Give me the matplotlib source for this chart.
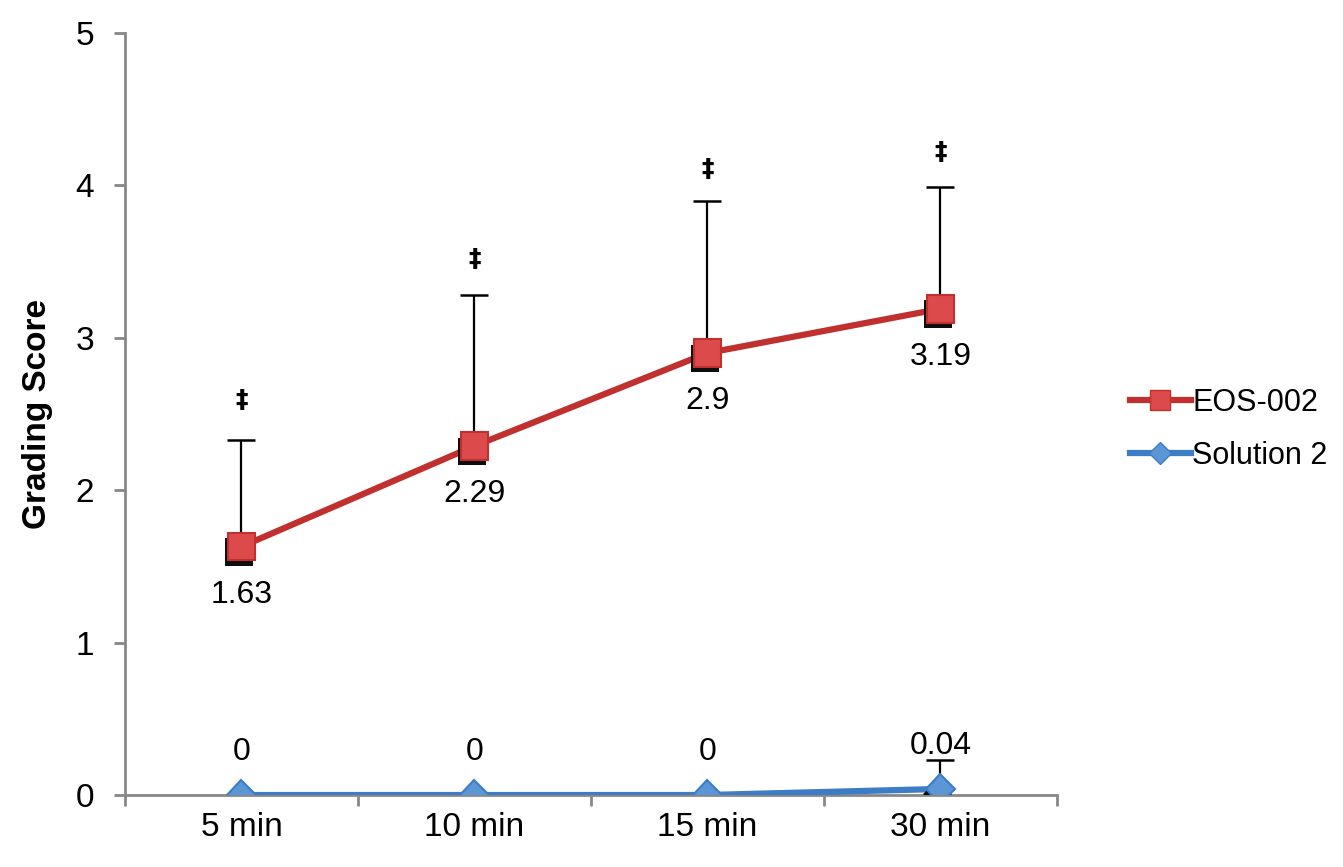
import matplotlib
matplotlib.use('Agg')
from matplotlib import pyplot as plt
import matplotlib.patheffects as pe

plt.rcParams['font.family'] = ['Liberation Sans', 'DejaVu Sans']

times = ['5 min', '10 min', '15 min', '30 min']
eos = [1.63, 2.29, 2.9, 3.19]
eos_err = [0.70, 0.99, 1.00, 0.80]
eos_sig = [2.59, 3.52, 4.11, 4.22]
sol = [0, 0, 0, 0.04]
sol_err = [0, 0, 0, 0.19]
sol_labels = ['0', '0', '0', '0.04']

red_line = '#c0302e'
red_face = '#dc4a4c'
blue_line = '#3d7cc6'
blue_face = '#5b97d6'

x = list(range(len(times)))

fig = plt.figure(figsize=(13.43, 8.67), dpi=100)
ax = fig.add_axes([0.093, 0.083, 0.694, 0.879])

shadow = [pe.SimplePatchShadow(offset=(-2, -4), shadow_rgbFace='black', alpha=0.95), pe.Normal()]

# error bars (upper only)
ax.errorbar(x, eos, yerr=[[0] * 4, eos_err], fmt='none', ecolor='black',
            elinewidth=1.6, capsize=10, capthick=1.8, zorder=2)
ax.errorbar(x, sol, yerr=[[0] * 4, sol_err], fmt='none', ecolor='black',
            elinewidth=1.6, capsize=10, capthick=1.8, zorder=2)

ax.plot(x, eos, color=red_line, linewidth=4.5, zorder=3)
ax.plot(x, sol, color=blue_line, linewidth=4.5, zorder=3)
ax.plot(x, eos, linestyle='none', marker='s', markersize=20, markerfacecolor=red_face,
        markeredgecolor=red_line, markeredgewidth=1.5, zorder=4, path_effects=shadow)
ax.plot(x, sol, linestyle='none', marker='D', markersize=15, markerfacecolor=blue_face,
        markeredgecolor=blue_line, markeredgewidth=1.5, zorder=4, path_effects=shadow)

# legend proxies
ax.plot([], [], color=red_line, linewidth=4.5, marker='s', markersize=15,
        markerfacecolor=red_face, markeredgecolor=red_line, label='EOS-002')
ax.plot([], [], color=blue_line, linewidth=4.5, marker='D', markersize=11,
        markerfacecolor=blue_face, markeredgecolor=blue_line, label='Solution 2')

for i in x:
    ax.annotate(f'{eos[i]:g}', (i, eos[i]), xytext=(0, -24), textcoords='offset points',
                ha='center', va='top', fontsize=23)
    ax.annotate(sol_labels[i], (i, sol[i]), xytext=(0, 20), textcoords='offset points',
                ha='center', va='bottom', fontsize=23)
    ax.text(i, eos_sig[i], '\u2021', ha='center', va='center', fontsize=18,
            fontweight='bold', family=['DejaVu Sans'])

ax.set_xlim(-0.5, 3.5)
ax.set_ylim(0, 5)
ax.set_yticks([0, 1, 2, 3, 4, 5])
ax.set_xticks([-0.5, 0.5, 1.5, 2.5, 3.5])
ax.set_xticklabels([])
ax.set_xticks(x, minor=True)
ax.set_xticklabels(times, minor=True)
ax.tick_params(axis='x', which='minor', length=0, labelsize=24, pad=12)
ax.tick_params(axis='x', which='major', length=8, width=2, color='#888888', direction='out')
ax.tick_params(axis='y', length=8, width=2, color='#888888', labelsize=24, pad=14)

for s in ['top', 'right']:
    ax.spines[s].set_visible(False)
for s in ['left', 'bottom']:
    ax.spines[s].set_color('#888888')
    ax.spines[s].set_linewidth(2)

ax.set_ylabel('Grading Score', fontsize=24, fontweight='bold', labelpad=16)

ax.legend(loc='center left', bbox_to_anchor=(1.065, 0.48), frameon=False, fontsize=22,
          handlelength=2.0, handletextpad=0.05, labelspacing=0.75, borderaxespad=0)

fig.savefig('out.png', dpi=100)
